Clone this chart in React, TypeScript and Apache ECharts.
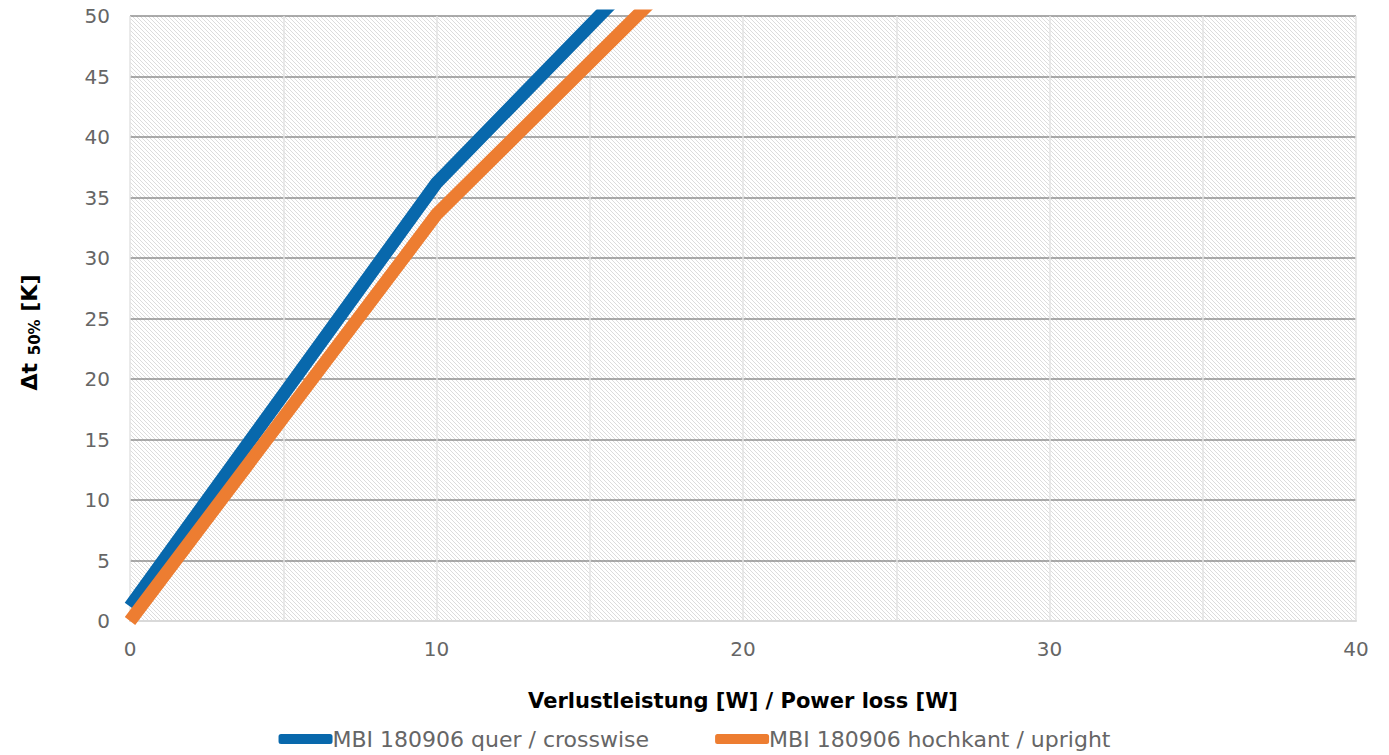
import React, { useEffect, useRef } from "react";
import * as echarts from "echarts";

const seriesNames = ["MBI 180906 quer / crosswise", "MBI 180906 hochkant / upright"];
const crosswiseX = [0, 10, 20];
const crosswiseY = [1.2, 36.2, 62.2];
const uprightX = [0, 10, 20];
const uprightY = [0, 33.6, 58.7];
const seriesColors = ["#0868AC", "#ED7D31"];

function makeHatch(): HTMLCanvasElement {
  const c = document.createElement("canvas");
  c.width = 4;
  c.height = 4;
  const ctx = c.getContext("2d")!;
  ctx.fillStyle = "#ffffff";
  ctx.fillRect(0, 0, 4, 4);
  ctx.fillStyle = "#dcdcdc";
  for (let i = 0; i < 4; i++) ctx.fillRect(i, i, 1, 1);
  return c;
}

export default function App() {
  const ref = useRef<HTMLDivElement>(null);
  useEffect(() => {
    if (!ref.current) return;
    const chart = echarts.init(ref.current, undefined, { renderer: "svg" });
    const hatch = makeHatch();
    const font = "DejaVu Sans";
    chart.setOption({
      animation: false,
      backgroundColor: "#ffffff",
      textStyle: { fontFamily: font },
      grid: {
        left: 130,
        right: 33,
        top: 16,
        bottom: 134,
        show: true,
        borderWidth: 0,
        backgroundColor: { image: hatch, repeat: "repeat", imageWidth: 4, imageHeight: 4 } as any,
      },
      legend: {
        bottom: 0,
        left: "center",
        itemWidth: 54,
        itemHeight: 10,
        itemGap: 66,
        icon: "roundRect",
        textStyle: { fontSize: 22, color: "#666666", fontFamily: font, padding: [0, 0, 0, -5] },
        data: seriesNames,
      },
      xAxis: {
        type: "value",
        min: 0,
        max: 40,
        interval: 5,
        name: "Verlustleistung [W] / Power loss [W]",
        nameLocation: "middle",
        nameGap: 69,
        nameTextStyle: { fontSize: 21, fontWeight: "bold", color: "#000", fontFamily: font },
        axisLine: { show: true, lineStyle: { color: "#d9d9d9", width: 2 } },
        axisTick: { show: false },
        axisLabel: {
          fontSize: 20,
          color: "#666666",
          margin: 18,
          formatter: (v: number) => (v % 10 === 0 ? String(v) : ""),
        },
        splitLine: { show: true, lineStyle: { color: "#e3e3e3", width: 1.5 } },
      },
      yAxis: {
        type: "value",
        min: 0,
        max: 50,
        interval: 5,
        name: "{a|Δt }{b|50%}{a| [K]}{s|}",
        nameLocation: "middle",
        nameGap: 88,
        nameTextStyle: {
          rich: {
            a: { fontSize: 22, fontWeight: "bold", color: "#000", fontFamily: font },
            b: { fontSize: 15, fontWeight: "bold", color: "#000", fontFamily: font, verticalAlign: "bottom", padding: [10, 0, 0, 0] },
            s: { width: 28 },
          },
        },
        axisLine: { show: false },
        axisTick: { show: false },
        axisLabel: { fontSize: 20, color: "#666666", margin: 20 },
        splitLine: { show: true, lineStyle: { color: "#8f8f8f", width: 1.5 } },
      },
      series: [
        {
          name: seriesNames[0],
          type: "line",
          data: crosswiseX.map((x, i) => [x, crosswiseY[i]]),
          symbol: "none",
          clip: true,
          color: seriesColors[0],
          lineStyle: { width: 13, color: seriesColors[0] },
        },
        {
          name: seriesNames[1],
          type: "line",
          data: uprightX.map((x, i) => [x, uprightY[i]]),
          symbol: "none",
          clip: true,
          color: seriesColors[1],
          lineStyle: { width: 13, color: seriesColors[1] },
        },
      ],
    });
    return () => chart.dispose();
  }, []);
  return <div ref={ref} style={{ width: 1389, height: 755, position: "absolute", left: 0, top: 0 }} />;
}
